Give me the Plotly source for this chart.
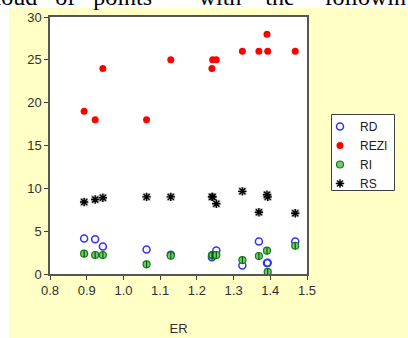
import plotly.graph_objects as go

# Data
ER = [0.893, 0.923, 0.944, 1.063, 1.129, 1.241, 1.243, 1.253, 1.324, 1.369, 1.391, 1.393, 1.468]
RD = [4.15, 4.05, 3.2, 2.85, 2.25, 1.95, 2.2, 2.75, 1.0, 3.8, 1.28, 1.3, 3.8]
REZI = [19, 18, 24, 18, 25, 24, 25, 25, 26, 26, 28, 26, 26]
RI = [2.37, 2.22, 2.22, 1.13, 2.14, 2.18, 2.2, 2.22, 1.63, 2.1, 2.72, 0.25, 3.3]
RS = [8.4, 8.7, 8.9, 9.0, 9.0, 9.0, 9.0, 8.2, 9.65, 7.2, 9.25, 9.0, 7.1]

X_TICKS = [0.8, 0.9, 1.0, 1.1, 1.2, 1.3, 1.4, 1.5]
Y_TICKS = [0, 5, 10, 15, 20, 25, 30]

W, H = 408, 338
L, R, T, B = 50, 307, 17, 274  # plot-area pixel box


def px_x(p):
    return (p - L) / (R - L)


def px_y(p):
    return (B - p) / (B - T)


fig = go.Figure()

fig.add_trace(go.Scatter(
    x=ER, y=RD, mode="markers", name="RD",
    marker=dict(symbol="circle-open", size=7, color="#3030ff", line=dict(width=1.5))))
fig.add_trace(go.Scatter(
    x=ER, y=REZI, mode="markers", name="REZI",
    marker=dict(symbol="circle", size=7, color="#ff0000", line=dict(width=0))))
fig.add_trace(go.Scatter(
    x=ER, y=RI, mode="markers", name="RI", legendgroup="RI",
    marker=dict(symbol="circle", size=7, color="#7cc47c", line=dict(width=1.2, color="#108010"))))
fig.add_trace(go.Scatter(
    x=ER, y=RI, mode="markers", name="RI", legendgroup="RI", showlegend=False,
    marker=dict(symbol="line-ns", size=5, line=dict(width=1.2, color="#006000"))))
fig.add_trace(go.Scatter(
    x=ER, y=RS, mode="markers", name="RS", legendgroup="RS", showlegend=False,
    marker=dict(symbol="square", size=8, color="#c0c0c0", line=dict(width=0))))
fig.add_trace(go.Scatter(
    x=ER, y=RS, mode="markers", name="RS", legendgroup="RS",
    marker=dict(symbol="asterisk-open", size=7, color="#000000", line=dict(width=1.4, color="#000000"))))

axis_common = dict(
    showgrid=False, zeroline=False, ticks="outside", ticklen=4, tickwidth=1,
    tickcolor="#404040", showline=True, linecolor="#555555", linewidth=1.5,
    mirror=True, tickfont=dict(family="Liberation Sans, Arial", size=13, color="#303030"),
)

fig.update_xaxes(range=[0.8, 1.5], tickvals=X_TICKS, tickformat=".1f",
                 title=dict(text="ER", font=dict(family="Liberation Sans, Arial", size=13, color="#303030"), standoff=27),
                 **axis_common)
fig.update_yaxes(range=[0, 30], tickvals=Y_TICKS, **axis_common)

shapes = [
    # yellow panel
    dict(type="rect", xref="paper", yref="paper", x0=px_x(9), x1=px_x(410), y0=px_y(340), y1=px_y(8),
         fillcolor="#ffffc6", line=dict(width=0), layer="below"),
    # white plot area
    dict(type="rect", xref="paper", yref="paper", x0=0, x1=1, y0=0, y1=1,
         fillcolor="#ffffff", line=dict(width=0), layer="below"),
    # legend box
    dict(type="rect", xref="paper", yref="paper", x0=px_x(331.5), x1=px_x(394.5), y0=px_y(190.5), y1=px_y(114.5),
         fillcolor="#ffffff", line=dict(width=1, color="#404040"), layer="below"),
]

NB = "\u00a0"
top_text = ("cloud" + NB * 3 + "of" + NB * 3 + "points\u201d" + NB * 6 + "with" + NB * 4 +
            "the" + NB * 5 + "followin")

fig.update_layout(
    width=W, height=H,
    margin=dict(l=L, r=W - R, t=T, b=H - B, autoexpand=False),
    paper_bgcolor="#ffffff", plot_bgcolor="#ffffff",
    shapes=shapes,
    showlegend=True,
    legend=dict(x=px_x(320), y=px_y(112), xanchor="left", yanchor="top",
                bgcolor="rgba(0,0,0,0)", borderwidth=0,
                font=dict(family="Liberation Sans, Arial", size=12, color="#202020"),
                itemwidth=30, tracegroupgap=0),
    annotations=[dict(
        text=top_text, xref="paper", yref="paper",
        x=px_x(-18), y=px_y(12), xanchor="left", yanchor="bottom", showarrow=False,
        font=dict(family="Liberation Serif, Times New Roman", size=24, color="#000000"))],
)

fig.write_html("out.html", config={"displayModeBar": False},
               post_script="document.body.style.margin='0';document.body.style.overflow='hidden';")
